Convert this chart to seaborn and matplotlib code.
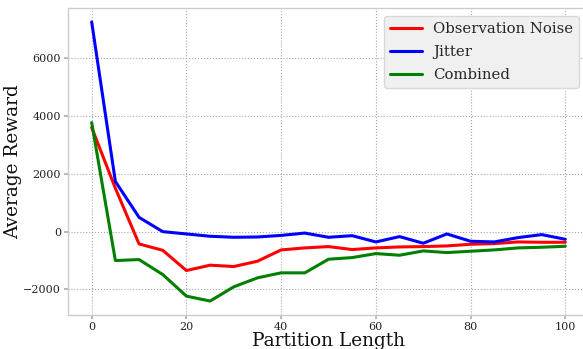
import matplotlib
matplotlib.use("Agg")
import matplotlib.pyplot as plt
import seaborn as sns
import pandas as pd

partition_length = [0, 5, 10, 15, 20, 25, 30, 35, 40, 45, 50,
                    55, 60, 65, 70, 75, 80, 85, 90, 95, 100]

observation_noise = [3600, 1500, -425, -645, -1345, -1160, -1207, -1023, -632, -563, -517,
                     -620, -563, -529, -517, -494, -437, -414, -356, -368, -368]
jitter = [7250, 1735, 494, 0, -80, -160, -195, -185, -130, -50, -195,
          -140, -356, -172, -402, -80, -333, -356, -207, -103, -264]
combined = [3770, -1000, -966, -1483, -2230, -2400, -1908, -1598, -1425, -1425, -954,
            -897, -759, -816, -667, -724, -678, -632, -563, -540, -506]

series_names = ["Observation Noise", "Jitter", "Combined"]
series_colors = ["#ff0000", "#0000ff", "#008000"]

df = pd.DataFrame({
    "Partition Length": partition_length * 3,
    "Average Reward": observation_noise + jitter + combined,
    "Setting": sum([[n] * len(partition_length) for n in series_names], []),
})

sns.set_theme(style="whitegrid")
plt.rcParams["font.family"] = ["DejaVu Serif"]
plt.rcParams["axes.edgecolor"] = "#cccccc"
plt.rcParams["grid.color"] = "#a8a8a8"
plt.rcParams["grid.linestyle"] = ":"
plt.rcParams["grid.linewidth"] = 0.8

fig = plt.figure(figsize=(5.83, 3.49), dpi=100)
ax = fig.add_axes([68 / 583, 1 - 315 / 349, (589 - 68) / 583, (315 - 8) / 349])

sns.lineplot(data=df, x="Partition Length", y="Average Reward", hue="Setting",
             hue_order=series_names, palette=series_colors, linewidth=2.2, ax=ax)

ax.set_xticks([0, 20, 40, 60, 80, 100])
ax.set_yticks([-2000, 0, 2000, 4000, 6000])
ax.tick_params(axis="both", labelsize=8, length=3, color="#b0b0b0", pad=2,
               bottom=True, left=True, labelcolor="#222222")
ax.set_xlabel("Partition Length", fontsize=13.3, color="#111111", labelpad=0)
ax.set_ylabel("Average Reward", fontsize=13.3, color="#111111", labelpad=1)
for s in ax.spines.values():
    s.set_color("#cccccc")
    s.set_linewidth(1.0)

leg = ax.legend(loc="upper right", bbox_to_anchor=(0.981, 0.974), borderaxespad=0,
                fontsize=10.7, frameon=True, fancybox=True, facecolor="#f0f0f0",
                edgecolor="#d8d8d8", framealpha=1.0, handlelength=2.15,
                handletextpad=0.75, borderpad=0.4, labelspacing=0.6)
for line in leg.get_lines():
    line.set_linewidth(2.2)

fig.savefig("out.png", dpi=100)
